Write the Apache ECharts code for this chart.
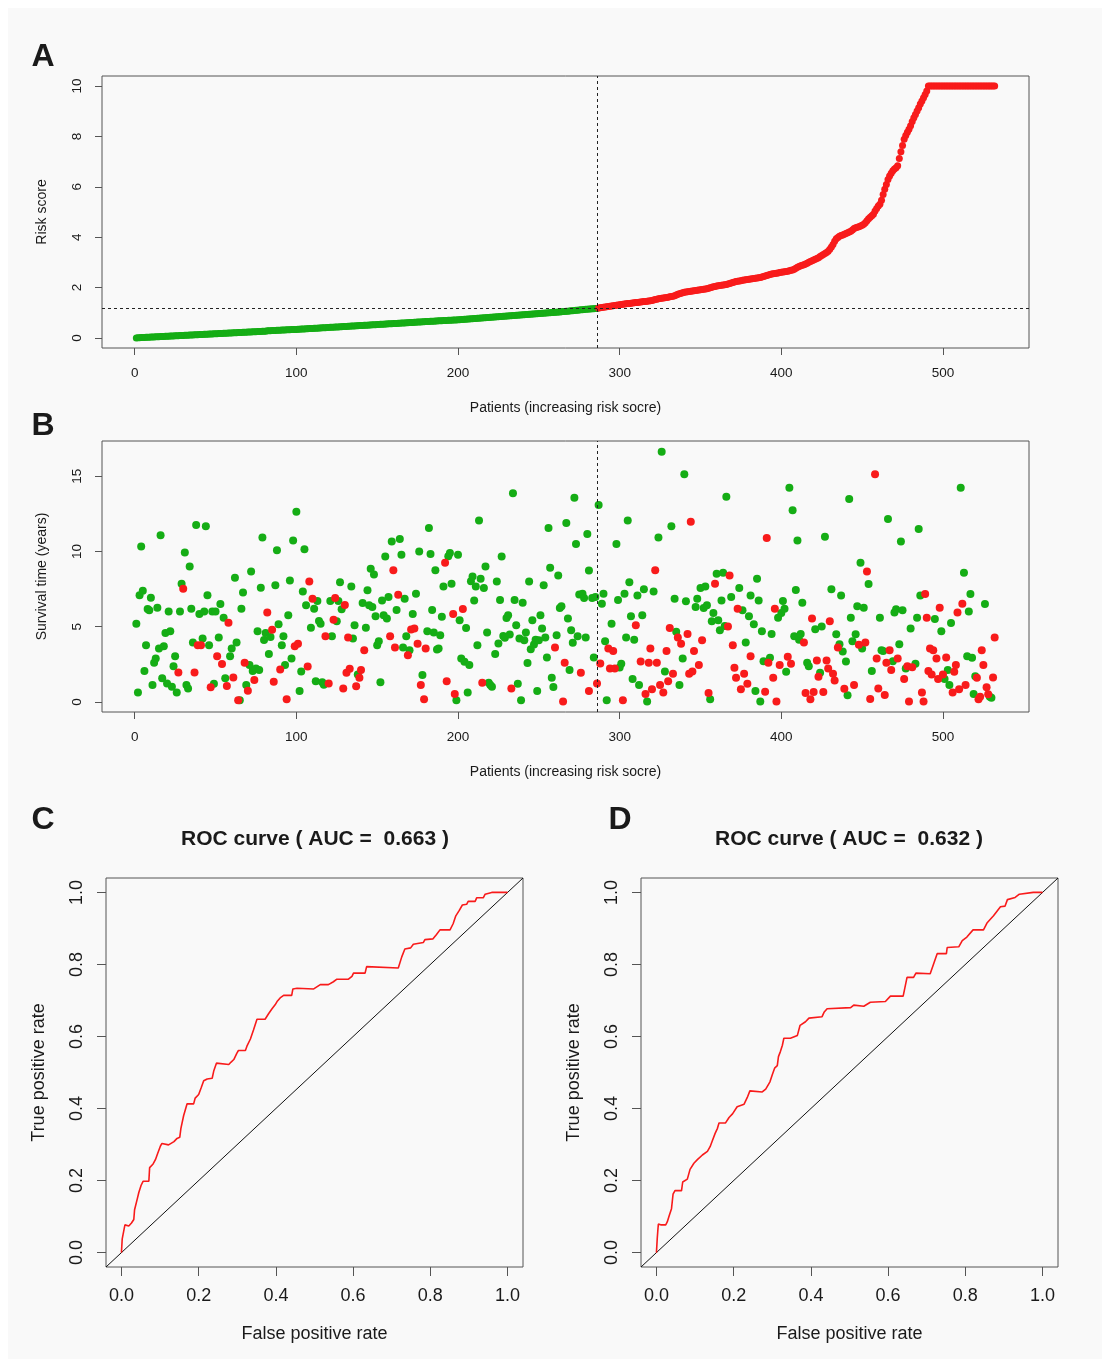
<!DOCTYPE html>
<html>
<head>
<meta charset="utf-8">
<script src="https://cdn.jsdelivr.net/npm/echarts@6.0.0/dist/echarts.min.js"></script>
<style>
  html, body { margin: 0; padding: 0; background: #ffffff; }
  #chart { width: 1110px; height: 1367px; }
</style>
</head>
<body>
<div id="chart"></div>
<script>
// ---- panel A: sorted risk scores (patient 1..532) ----
const riskScore = [
  0.00,0.01,0.01,0.02,0.02,0.02,0.03,0.03,0.03,0.04,
  0.04,0.04,0.05,0.05,0.05,0.06,0.06,0.06,0.07,0.07,
  0.07,0.08,0.08,0.08,0.09,0.09,0.09,0.10,0.10,0.10,
  0.11,0.11,0.11,0.12,0.12,0.12,0.13,0.13,0.13,0.14,
  0.14,0.14,0.15,0.15,0.15,0.16,0.16,0.16,0.17,0.17,
  0.17,0.18,0.18,0.18,0.19,0.19,0.19,0.20,0.20,0.20,
  0.21,0.21,0.21,0.22,0.22,0.22,0.23,0.23,0.23,0.24,
  0.24,0.24,0.25,0.25,0.25,0.26,0.26,0.26,0.27,0.27,
  0.27,0.28,0.28,0.28,0.29,0.29,0.29,0.30,0.30,0.30,
  0.31,0.31,0.31,0.32,0.32,0.32,0.33,0.33,0.33,0.33,
  0.34,0.34,0.35,0.35,0.35,0.36,0.36,0.37,0.37,0.37,
  0.38,0.38,0.38,0.39,0.39,0.40,0.40,0.40,0.41,0.41,
  0.42,0.42,0.42,0.43,0.43,0.43,0.44,0.44,0.45,0.45,
  0.45,0.46,0.46,0.47,0.47,0.47,0.48,0.48,0.49,0.49,
  0.49,0.50,0.50,0.50,0.51,0.51,0.52,0.52,0.52,0.53,
  0.53,0.54,0.54,0.54,0.55,0.55,0.56,0.56,0.56,0.57,
  0.57,0.57,0.58,0.58,0.59,0.59,0.59,0.60,0.60,0.61,
  0.61,0.61,0.62,0.62,0.63,0.63,0.63,0.64,0.64,0.65,
  0.65,0.65,0.66,0.66,0.66,0.67,0.67,0.68,0.68,0.68,
  0.69,0.69,0.69,0.70,0.70,0.70,0.71,0.71,0.71,0.72,
  0.72,0.73,0.73,0.74,0.74,0.75,0.75,0.76,0.76,0.77,
  0.77,0.78,0.78,0.79,0.79,0.80,0.80,0.81,0.81,0.82,
  0.82,0.83,0.83,0.84,0.84,0.85,0.85,0.86,0.86,0.87,
  0.87,0.88,0.88,0.89,0.89,0.90,0.90,0.91,0.91,0.92,
  0.92,0.93,0.93,0.94,0.94,0.95,0.95,0.96,0.96,0.97,
  0.97,0.98,0.98,0.99,0.99,1.00,1.00,1.01,1.01,1.02,
  1.02,1.03,1.03,1.04,1.05,1.05,1.06,1.06,1.07,1.08,
  1.08,1.09,1.10,1.10,1.11,1.12,1.12,1.13,1.14,1.14,
  1.15,1.15,1.16,1.16,1.17,1.17,
  1.19,1.20,1.21,1.22,1.23,1.24,1.25,1.26,1.27,1.28,
  1.29,1.30,1.31,1.32,1.33,1.34,1.35,1.36,1.37,1.37,
  1.38,1.39,1.40,1.41,1.41,1.42,1.43,1.44,1.45,1.45,
  1.46,1.47,1.48,1.49,1.51,1.53,1.54,1.56,1.57,1.58,
  1.59,1.60,1.61,1.62,1.63,1.64,1.65,1.67,1.70,1.73,
  1.75,1.77,1.79,1.81,1.82,1.83,1.84,1.85,1.86,1.87,
  1.88,1.89,1.90,1.91,1.92,1.93,1.94,1.95,1.97,1.99,
  2.01,2.03,2.04,2.06,2.07,2.08,2.09,2.10,2.11,2.12,
  2.14,2.16,2.18,2.20,2.22,2.24,2.25,2.26,2.27,2.29,
  2.30,2.31,2.32,2.33,2.34,2.35,2.36,2.37,2.38,2.39,
  2.40,2.42,2.44,2.46,2.48,2.50,2.52,2.54,2.55,2.56,
  2.57,2.58,2.60,2.61,2.62,2.63,2.64,2.65,2.67,2.69,
  2.70,2.73,2.77,2.81,2.84,2.87,2.89,2.91,2.94,2.97,
  3.00,3.03,3.06,3.09,3.12,3.15,3.18,3.23,3.27,3.31,
  3.35,3.39,3.44,3.52,3.61,3.71,3.84,3.94,3.99,4.04,
  4.07,4.09,4.12,4.15,4.18,4.21,4.24,4.29,4.34,4.37,
  4.39,4.41,4.44,4.47,4.51,4.57,4.65,4.73,4.79,4.85,
  4.91,5.04,5.14,5.24,5.31,5.47,5.69,5.90,6.09,6.29,
  6.43,6.54,6.64,6.71,6.76,6.84,7.12,7.39,7.64,7.89,
  8.04,8.17,8.29,8.42,8.59,8.74,8.87,9.01,9.14,9.29,
  9.41,9.54,9.67,9.80,
  10,10,10,10,10,10,10,10,10,10,
  10,10,10,10,10,10,10,10,10,10,
  10,10,10,10,10,10,10,10,10,10,
  10,10,10,10,10,10,10,10,10,10,
  10,10
];
const lowRiskCount = 286;     // patients below the median
const riskCutoff = 1.17;      // median risk score

// ---- panel B: survival time (years) by patient, split by status ----
const aliveTimes = [
  [1,5.2],[2,0.62],[3,7.1],[4,10.33],[5,7.4],[6,2.05],[7,3.77],[8,6.18],[9,6.09],[10,6.93],
  [11,1.12],[12,2.6],[13,2.89],[14,6.27],[15,3.55],[16,11.08],[17,1.57],[18,3.71],[19,4.59],[20,1.23],
  [21,6.02],[22,4.7],[23,1.01],[24,2.38],[25,3.04],[26,0.62],[28,6.02],[29,7.86],[31,9.93],[32,1.12],
  [33,0.9],[34,9.0],[35,6.2],[36,3.95],[38,11.76],[40,5.85],[42,4.21],[43,6.02],[44,11.68],[45,7.1],
  [46,3.77],[48,6.02],[49,1.21],[50,6.02],[52,4.28],[53,6.51],[55,5.6],[56,1.57],[59,3.04],[60,3.55],
  [62,8.25],[63,3.95],[65,0.11],[66,6.2],[67,7.28],[69,1.12],[71,2.45],[72,8.67],[73,2.05],[75,2.23],
  [76,4.7],[77,2.12],[78,7.59],[79,10.93],[80,4.12],[81,4.59],[83,3.18],[84,4.32],[87,7.75],[88,10.09],
  [89,5.16],[91,3.77],[92,4.37],[93,2.45],[95,5.76],[96,8.08],[97,2.89],[98,10.73],[100,12.65],[102,0.73],
  [103,2.03],[104,7.35],[105,10.15],[106,6.42],[109,4.94],[111,6.2],[112,1.37],[113,6.71],[114,5.38],[115,5.19],
  [116,1.3],[117,1.15],[121,6.71],[122,4.37],[125,5.36],[126,6.71],[127,7.95],[128,6.16],[134,7.68],[135,4.21],
  [136,5.1],[138,1.83],[141,6.58],[143,4.94],[144,7.42],[145,6.42],[146,8.85],[147,6.31],[148,8.47],[149,5.69],
  [150,3.77],[151,4.04],[152,1.3],[153,6.75],[154,5.76],[155,9.67],[156,5.54],[157,6.98],[159,10.66],[162,6.11],
  [164,10.84],[165,9.78],[166,3.62],[167,6.86],[168,4.37],[170,3.44],[172,5.85],[174,7.2],[176,10.0],[178,1.79],
  [181,4.7],[182,11.57],[183,9.84],[184,6.11],[185,4.61],[186,8.76],[187,3.49],[188,3.55],[189,4.43],[190,5.67],
  [191,7.68],[194,9.69],[195,9.91],[196,7.86],[199,0.11],[200,9.78],[201,5.43],[202,2.89],[204,2.67],[205,4.92],
  [206,0.62],[207,2.45],[208,8.03],[209,8.34],[210,6.75],[211,7.68],[212,3.77],[213,12.07],[214,8.19],[216,7.57],
  [217,9.0],[218,4.61],[219,1.28],[220,1.12],[221,1.01],[223,3.18],[224,8.01],[225,3.88],[226,6.77],[227,9.67],
  [228,4.39],[229,4.26],[230,5.58],[231,5.76],[232,4.48],[234,13.88],[235,6.77],[236,5.1],[237,1.21],[238,4.21],
  [239,0.11],[240,6.6],[241,4.1],[242,4.61],[243,2.58],[244,8.01],[245,3.51],[246,5.43],[247,3.82],[248,4.13],
  [249,0.73],[250,4.1],[251,5.76],[252,4.88],[253,7.75],[254,4.28],[255,2.96],[256,11.57],[257,8.92],[258,1.61],
  [259,0.99],[261,4.43],[262,8.41],[263,6.25],[264,6.36],[267,11.9],[268,5.54],[269,2.12],[270,4.77],[271,3.93],
  [272,13.57],[273,10.5],[274,4.37],[275,7.15],[277,7.2],[278,6.91],[279,4.28],[280,11.17],[281,8.74],[283,6.91],
  [284,2.96],[285,6.97],[287,13.09],[289,6.53],[290,7.2],[291,4.04],[292,0.11],[295,5.19],[298,10.5],[299,6.77],
  [300,2.29],[301,2.54],[303,7.2],[304,4.28],[305,12.07],[306,7.95],[307,5.69],[308,1.52],[309,4.13],[311,7.08],
  [312,1.12],[314,5.76],[315,7.5],[317,0.02],[321,7.35],[324,10.93],[326,16.64],[328,2.03],[332,11.68],[334,6.86],
  [335,4.66],[337,1.12],[339,2.89],[340,15.14],[341,6.69],[347,6.31],[348,6.86],[350,7.57],[352,6.25],[353,7.68],
  [354,6.42],[356,0.18],[357,5.36],[358,5.91],[360,8.52],[361,5.43],[362,4.77],[363,6.75],[364,8.59],[365,5.05],
  [366,13.64],[369,6.98],[374,7.57],[376,6.09],[378,3.95],[380,5.69],[381,7.08],[383,5.16],[384,0.73],[385,8.19],
  [386,6.75],[387,0.02],[388,4.7],[389,2.71],[393,2.93],[394,4.52],[398,5.6],[400,5.91],[401,6.71],[402,6.2],
  [403,2.01],[405,14.24],[407,12.74],[408,4.37],[409,7.44],[410,10.73],[411,4.13],[412,4.52],[413,6.6],[416,2.6],
  [417,2.38],[421,4.83],[424,1.94],[425,5.01],[427,10.99],[431,7.5],[434,4.5],[436,3.84],[437,7.08],[438,3.35],
  [440,2.69],[441,0.44],[442,13.49],[443,5.6],[444,4.04],[446,4.5],[447,6.36],[449,9.25],[450,3.55],[451,6.27],
  [454,7.84],[456,2.05],[461,5.6],[462,3.44],[463,3.38],[466,12.16],[469,2.71],[470,5.94],[471,6.16],[473,3.84],
  [474,10.66],[475,6.09],[477,2.23],[480,4.88],[483,2.54],[484,5.6],[485,11.5],[486,7.08],[495,5.52],[499,4.7],
  [501,1.52],[503,2.12],[504,1.12],[505,5.25],[511,14.24],[513,8.59],[515,3.04],[516,6.02],[517,7.17],[518,2.93],
  [519,0.53],[520,1.7],[526,6.51],[529,0.35],[530,0.27]
];
const deadTimes = [
  [27,1.96],[30,7.53],[37,1.96],[39,3.77],[41,3.77],[47,0.97],[51,3.04],[54,2.52],[57,1.06],[58,5.27],
  [61,1.63],[64,0.11],[68,2.6],[70,0.75],[74,1.45],[82,5.94],[85,4.8],[86,1.34],[90,2.16],[94,0.18],
  [99,3.71],[101,3.86],[107,2.36],[108,8.01],[110,6.86],[118,4.37],[120,1.23],[123,5.47],[124,6.91],[129,0.9],
  [130,6.44],[131,1.94],[132,4.28],[133,2.21],[137,1.04],[139,1.61],[140,2.12],[142,3.44],[158,4.37],[160,8.76],
  [161,3.62],[163,7.13],[169,3.11],[171,4.81],[173,4.88],[175,3.86],[177,1.12],[179,0.18],[180,3.55],[192,9.25],
  [193,1.37],[197,5.85],[198,0.53],[203,6.18],[215,1.28],[233,0.9],[260,3.62],[265,0.02],[266,2.6],[276,1.94],
  [281,0.73],[286,1.23],[288,2.56],[293,3.55],[294,2.23],[296,3.38],[297,2.23],[302,0.11],[310,5.1],[313,2.69],
  [316,0.53],[318,2.6],[319,3.55],[320,0.84],[322,8.76],[323,2.6],[325,1.12],[327,0.62],[329,3.38],[330,1.37],
  [331,4.92],[333,1.87],[336,4.28],[338,3.86],[342,4.52],[343,1.87],[344,11.98],[345,2.03],[346,3.38],[349,2.45],
  [351,4.1],[355,0.6],[359,7.86],[367,5.01],[368,8.41],[370,3.77],[371,2.27],[372,1.61],[373,6.2],[375,0.84],
  [377,1.87],[379,1.21],[381,3.04],[390,0.68],[391,10.9],[392,2.6],[395,1.61],[396,6.2],[397,0.02],[399,2.45],
  [404,3.0],[406,2.54],[414,3.95],[415,0.6],[418,0.18],[419,5.54],[420,0.66],[422,2.76],[423,1.68],[426,0.66],
  [428,2.76],[429,2.23],[430,5.36],[432,1.87],[433,1.43],[435,3.62],[439,0.88],[445,1.12],[448,3.8],[452,3.95],
  [453,8.67],[455,0.2],[458,15.14],[459,2.89],[460,0.9],[464,0.46],[465,2.6],[467,3.44],[468,2.12],[472,2.89],
  [476,1.52],[478,2.38],[479,0.02],[481,2.3],[487,0.62],[488,0.02],[489,7.17],[490,5.6],[491,2.05],[492,3.55],
  [493,1.83],[494,3.44],[496,2.89],[497,1.52],[498,6.27],[500,1.83],[502,2.96],[506,0.62],[507,2.01],[508,2.45],
  [509,5.94],[510,0.84],[512,6.53],[514,1.12],[521,1.61],[522,0.18],[523,0.35],[524,3.44],[525,2.45],[527,0.97],
  [528,0.51],[531,1.63],[532,4.28]
];

// ---- panels C / D: ROC curves [false positive rate, true positive rate] ----
const rocC = [
  [0,0],[0.002,0.038],[0.006,0.043],[0.009,0.077],[0.013,0.079],[0.019,0.074],[0.026,0.082],[0.032,0.092],
  [0.034,0.119],[0.041,0.149],[0.045,0.167],[0.051,0.187],[0.056,0.198],[0.071,0.198],[0.073,0.236],[0.082,0.246],
  [0.088,0.258],[0.094,0.276],[0.101,0.296],[0.105,0.303],[0.122,0.299],[0.136,0.308],[0.144,0.317],[0.151,0.320],
  [0.154,0.345],[0.161,0.380],[0.170,0.413],[0.187,0.413],[0.191,0.429],[0.200,0.439],[0.207,0.459],[0.213,0.477],
  [0.222,0.482],[0.235,0.484],[0.239,0.504],[0.246,0.526],[0.278,0.522],[0.284,0.529],[0.291,0.536],[0.299,0.554],
  [0.303,0.561],[0.321,0.561],[0.325,0.573],[0.334,0.593],[0.342,0.618],[0.351,0.648],[0.372,0.648],[0.381,0.663],
  [0.390,0.677],[0.398,0.688],[0.403,0.697],[0.411,0.707],[0.420,0.714],[0.441,0.714],[0.444,0.732],[0.455,0.734],
  [0.498,0.732],[0.515,0.744],[0.536,0.744],[0.549,0.752],[0.558,0.759],[0.588,0.759],[0.597,0.767],[0.601,0.776],
  [0.631,0.776],[0.635,0.794],[0.717,0.790],[0.726,0.821],[0.734,0.843],[0.749,0.846],[0.756,0.856],[0.782,0.861],
  [0.786,0.869],[0.807,0.871],[0.816,0.883],[0.825,0.896],[0.851,0.896],[0.859,0.913],[0.866,0.935],[0.875,0.950],
  [0.883,0.965],[0.894,0.967],[0.898,0.975],[0.916,0.975],[0.920,0.985],[0.937,0.985],[0.942,0.995],[0.959,1],[1,1]
];
const rocD = [
  [0,0],[0.002,0.038],[0.004,0.067],[0.005,0.079],[0.011,0.077],[0.016,0.081],[0.024,0.077],[0.028,0.085],
  [0.033,0.102],[0.039,0.122],[0.043,0.162],[0.048,0.172],[0.065,0.172],[0.068,0.196],[0.080,0.204],[0.087,0.231],
  [0.097,0.248],[0.106,0.258],[0.119,0.271],[0.132,0.281],[0.139,0.294],[0.145,0.311],[0.152,0.331],[0.158,0.345],
  [0.162,0.360],[0.179,0.360],[0.188,0.375],[0.197,0.385],[0.209,0.405],[0.227,0.412],[0.235,0.430],[0.242,0.449],
  [0.274,0.446],[0.283,0.454],[0.294,0.474],[0.300,0.494],[0.306,0.512],[0.313,0.519],[0.316,0.544],[0.321,0.558],
  [0.326,0.575],[0.330,0.595],[0.347,0.595],[0.365,0.603],[0.372,0.631],[0.386,0.641],[0.395,0.651],[0.429,0.655],
  [0.434,0.667],[0.442,0.677],[0.503,0.680],[0.511,0.687],[0.537,0.684],[0.554,0.695],[0.593,0.697],[0.606,0.712],
  [0.639,0.712],[0.649,0.764],[0.666,0.764],[0.672,0.776],[0.709,0.774],[0.718,0.802],[0.727,0.830],[0.751,0.830],
  [0.753,0.847],[0.783,0.849],[0.792,0.866],[0.804,0.876],[0.820,0.896],[0.847,0.896],[0.856,0.915],[0.873,0.935],
  [0.891,0.960],[0.903,0.962],[0.909,0.980],[0.929,0.986],[0.940,0.995],[0.976,1],[1,1]
];
const diagonal = [[-0.04,-0.04],[1.04,1.04]];
const aucC = '0.663';
const aucD = '0.632';

// ---- tick labels ----
const patientTicks = [0,100,200,300,400,500];
const riskTicks = [0,2,4,6,8,10];
const timeTicks = [0,5,10,15];
const rateTicks = [0,0.2,0.4,0.6,0.8,1.0];

const FONT = "'Liberation Sans', Arial, Helvetica, sans-serif";
const INK = '#1a1a1a';
const FRAME = '#555555';
const GREEN = '#15ad15';
const RED = '#f81b1b';

// axis helper, R-style: ticks outside, no split lines, axis pinned to the box edge
function axis(kind, grid, min, max, ticks, name, o) {
  return {
    type: 'value', gridIndex: grid, min: min, max: max,
    axisLine: { show: false, onZero: false },
    axisTick: { show: true, inside: false, length: o.tick, customValues: ticks, lineStyle: { color: FRAME, width: 1 } },
    axisLabel: {
      customValues: ticks, margin: o.margin, fontSize: o.fs, color: INK, fontFamily: FONT,
      rotate: kind === 'y' ? 90 : 0, formatter: o.fmt
    },
    splitLine: { show: false },
    name: name, nameLocation: 'middle', nameGap: o.gap, nameMoveOverlap: false,
    nameTextStyle: { fontSize: o.nfs, color: INK, fontFamily: FONT }
  };
}
const small = { tick: 7, margin: 18, fs: 13.5, gap: 53, nfs: 14, fmt: v => String(v) };
const big = { tick: 9, margin: 20, fs: 18, gap: 58, nfs: 18, fmt: v => v.toFixed(1) };

const gridBase = { show: true, borderColor: FRAME, borderWidth: 1, backgroundColor: 'transparent', containLabel: false, outerBoundsMode: 'none' };

const riskLow = riskScore.slice(0, lowRiskCount).map((v, i) => [i + 1, v]);
const riskHigh = riskScore.slice(lowRiskCount).map((v, i) => [i + 1 + lowRiskCount, v]);

const dashed = { type: [3, 3], color: '#222', width: 1 };

function label(text, x, y, font) {
  return { type: 'text', x: x, y: y, z: 10,
    style: { text: text, font: font, fill: INK, align: 'center', verticalAlign: 'middle' } };
}

const option = {
  animation: false,
  backgroundColor: 'transparent',
  graphic: [
    { type: 'rect', z: -100, silent: true, shape: { x: 8, y: 8, width: 1094, height: 1351 }, style: { fill: '#f9f9f9' } },
    label('A', 43, 57, 'bold 32px ' + FONT),
    label('B', 43, 426, 'bold 32px ' + FONT),
    label('C', 43, 820, 'bold 32px ' + FONT),
    label('D', 620, 820, 'bold 32px ' + FONT),
    label('ROC curve ( AUC =  ' + aucC + ' )', 315, 839, 'bold 21px ' + FONT),
    label('ROC curve ( AUC =  ' + aucD + ' )', 849, 839, 'bold 21px ' + FONT)
  ],
  grid: [
    Object.assign({ left: 102, top: 76, width: 927, height: 272 }, gridBase),
    Object.assign({ left: 102, top: 441, width: 927, height: 271 }, gridBase),
    Object.assign({ left: 106, top: 878, width: 417, height: 389 }, gridBase),
    Object.assign({ left: 641, top: 878, width: 417, height: 389 }, gridBase)
  ],
  xAxis: [
    axis('x', 0, -20.24, 553.24, patientTicks, 'Patients (increasing risk socre)', small),
    axis('x', 1, -20.24, 553.24, patientTicks, 'Patients (increasing risk socre)', small),
    axis('x', 2, -0.04, 1.04, rateTicks, 'False positive rate', big),
    axis('x', 3, -0.04, 1.04, rateTicks, 'False positive rate', big)
  ],
  yAxis: [
    axis('y', 0, -0.4, 10.4, riskTicks, 'Risk score', small),
    axis('y', 1, -0.67, 17.35, timeTicks, 'Survival time (years)', small),
    axis('y', 2, -0.04, 1.04, rateTicks, 'True positive rate', big),
    axis('y', 3, -0.04, 1.04, rateTicks, 'True positive rate', big)
  ],
  series: [
    { type: 'scatter', xAxisIndex: 0, yAxisIndex: 0, data: riskLow, symbolSize: 7,
      itemStyle: { color: GREEN, opacity: 1 },
      markLine: { silent: true, symbol: 'none', label: { show: false }, lineStyle: dashed,
        data: [{ xAxis: lowRiskCount }, { yAxis: riskCutoff }] } },
    { type: 'scatter', xAxisIndex: 0, yAxisIndex: 0, data: riskHigh, symbolSize: 7,
      itemStyle: { color: RED, opacity: 1 } },
    { type: 'scatter', xAxisIndex: 1, yAxisIndex: 1, data: aliveTimes, symbolSize: 8,
      itemStyle: { color: GREEN, opacity: 1 },
      markLine: { silent: true, symbol: 'none', label: { show: false }, lineStyle: dashed,
        data: [{ xAxis: lowRiskCount }] } },
    { type: 'scatter', xAxisIndex: 1, yAxisIndex: 1, data: deadTimes, symbolSize: 8,
      itemStyle: { color: RED, opacity: 1 } },
    { type: 'line', xAxisIndex: 2, yAxisIndex: 2, data: diagonal, showSymbol: false,
      lineStyle: { color: '#111', width: 1 } },
    { type: 'line', xAxisIndex: 2, yAxisIndex: 2, data: rocC, showSymbol: false,
      lineStyle: { color: RED, width: 1.6 } },
    { type: 'line', xAxisIndex: 3, yAxisIndex: 3, data: diagonal, showSymbol: false,
      lineStyle: { color: '#111', width: 1 } },
    { type: 'line', xAxisIndex: 3, yAxisIndex: 3, data: rocD, showSymbol: false,
      lineStyle: { color: RED, width: 1.6 } }
  ]
};

const chart = echarts.init(document.getElementById('chart'), null, { renderer: 'canvas' });
chart.setOption(option);
</script>
</body>
</html>
